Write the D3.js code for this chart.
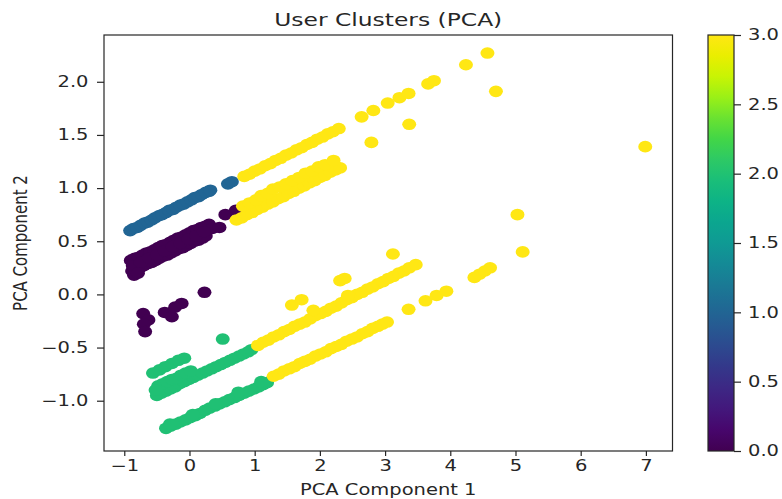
<!DOCTYPE html>
<html>
<head>
<meta charset="utf-8">
<script src="https://cdn.jsdelivr.net/npm/d3@7"></script>
<style>
  html, body { margin: 0; padding: 0; background: #fff; }
  svg { display: block; font-family: "DejaVu Sans", sans-serif; }
</style>
</head>
<body>
<svg id="chart" width="782" height="499"></svg>
<script>
// ---- data -------------------------------------------------------------
const xTicks = [-1, 0, 1, 2, 3, 4, 5, 6, 7];
const yTicks = [-1.0, -0.5, 0.0, 0.5, 1.0, 1.5, 2.0];
const colorbarTicks = [0.0, 0.5, 1.0, 1.5, 2.0, 2.5, 3.0];
const clusterIds = [0, 1, 2, 3];

// cluster 0
const cluster0Points = [
  [-0.88,0.22],[-0.82,0.23],[-0.76,0.25],[-0.70,0.27],[-0.64,0.29],[-0.58,0.30],[-0.52,0.32],
  [-0.46,0.34],[-0.40,0.36],[-0.34,0.37],[-0.28,0.39],[-0.22,0.41],[-0.16,0.43],[-0.10,0.44],
  [-0.04,0.46],[0.02,0.48],[0.08,0.50],[0.14,0.51],[0.20,0.53],[0.25,0.55],
  [-0.90,0.32],[-0.84,0.34],[-0.78,0.35],[-0.72,0.37],[-0.66,0.39],[-0.60,0.40],[-0.54,0.42],
  [-0.48,0.44],[-0.42,0.46],[-0.36,0.47],[-0.30,0.49],[-0.24,0.51],[-0.18,0.53],[-0.12,0.54],
  [-0.06,0.56],[0.00,0.58],[0.06,0.60],[0.12,0.61],[0.18,0.63],[0.24,0.64],[0.30,0.66],[0.35,0.62],
  [-0.87,0.27],[-0.75,0.30],[-0.62,0.34],[-0.50,0.37],[-0.38,0.41],[-0.26,0.45],[-0.14,0.48],
  [-0.02,0.52],[0.10,0.55],[0.22,0.59],[-0.85,0.18],[-0.79,0.20],
  [0.46,0.63],[0.55,0.75],[0.71,0.79],
  [-0.71,-0.18],[-0.63,-0.24],[-0.70,-0.28],[-0.68,-0.35],[-0.38,-0.17],[-0.27,-0.21],
  [-0.22,-0.12],[-0.12,-0.085],[0.23,0.02]
];

// cluster 1
const cluster1Points = [
  [-0.91,0.60],[-0.86,0.62],[-0.80,0.63],[-0.75,0.65],[-0.69,0.67],[-0.64,0.68],[-0.58,0.70],
  [-0.53,0.72],[-0.47,0.74],[-0.42,0.75],[-0.36,0.77],[-0.31,0.79],[-0.25,0.80],[-0.20,0.82],
  [-0.14,0.84],[-0.09,0.85],[-0.03,0.87],[0.03,0.89],[0.08,0.91],[0.14,0.92],[0.19,0.94],
  [0.25,0.96],[0.30,0.97],[0.32,0.98],
  [0.59,1.04],[0.65,1.06]
];

// cluster 2
const cluster2Points = [
  [0.51,-0.42],
  [-0.56,-0.74],[-0.46,-0.71],[-0.37,-0.68],[-0.27,-0.65],[-0.17,-0.62],[-0.08,-0.60],
  [-0.50,-0.95],[-0.43,-0.93],[-0.36,-0.91],[-0.29,-0.89],[-0.22,-0.87],[-0.15,-0.84],
  [-0.08,-0.82],[-0.01,-0.80],[0.06,-0.78],[0.13,-0.76],[0.20,-0.74],[0.27,-0.72],[0.34,-0.70],
  [0.41,-0.68],[0.48,-0.66],[0.55,-0.64],[0.62,-0.62],[0.69,-0.60],[0.76,-0.58],[0.83,-0.56],
  [0.90,-0.54],[0.95,-0.52],
  [-0.48,-0.86],[-0.41,-0.84],[-0.34,-0.82],[-0.27,-0.80],[-0.20,-0.79],[-0.13,-0.76],
  [-0.06,-0.74],[0.02,-0.72],[-0.52,-0.90],
  [-0.36,-1.26],[-0.29,-1.24],[-0.21,-1.22],[-0.14,-1.20],[-0.06,-1.18],[0.01,-1.16],
  [0.09,-1.14],[0.16,-1.12],[0.24,-1.09],[0.31,-1.07],[0.39,-1.05],[0.46,-1.03],[0.54,-1.01],
  [0.61,-0.99],[0.69,-0.97],[0.76,-0.95],[0.84,-0.93],[0.91,-0.91],[0.99,-0.89],[1.06,-0.87],
  [1.13,-0.85],[1.19,-0.83],
  [-0.30,-1.22],[0.05,-1.13],[0.40,-1.03],[0.75,-0.92],[1.10,-0.82]
];

// cluster 3
const cluster3Points = [
  // upper streak
  [0.84,1.11],[0.92,1.13],[1.00,1.16],[1.08,1.18],[1.16,1.21],[1.24,1.23],[1.32,1.26],
  [1.40,1.28],[1.48,1.31],[1.56,1.33],[1.64,1.36],[1.72,1.38],[1.80,1.41],[1.88,1.43],
  [1.96,1.46],[2.04,1.48],[2.12,1.51],[2.20,1.53],[2.29,1.56],
  [2.64,1.67],[2.82,1.73],[3.04,1.80],[3.22,1.85],[3.36,1.89],[3.66,1.98],[3.75,2.01],
  [4.24,2.16],[4.57,2.27],[4.70,1.91],[3.37,1.60],[2.79,1.43],[6.99,1.39],
  // second streak
  [0.72,0.70],[0.80,0.72],[0.88,0.75],[0.96,0.77],[1.04,0.80],[1.12,0.82],[1.20,0.85],
  [1.28,0.87],[1.36,0.90],[1.44,0.92],[1.52,0.95],[1.60,0.97],[1.68,1.00],[1.76,1.02],
  [1.84,1.05],[1.92,1.07],[2.00,1.10],[2.08,1.12],[2.16,1.15],[2.24,1.17],[2.31,1.19],
  [0.82,0.83],[0.92,0.86],[1.02,0.89],[1.10,0.93],[1.20,0.95],[1.28,0.99],[1.38,1.01],
  [1.48,1.04],[1.58,1.07],[1.68,1.10],[1.78,1.14],[1.88,1.16],[1.98,1.20],[2.08,1.22],[2.21,1.26],
  [5.03,0.75],[5.11,0.40],
  // third streak
  [1.05,-0.48],[1.13,-0.45],[1.21,-0.43],[1.29,-0.40],[1.37,-0.38],[1.45,-0.35],[1.53,-0.33],
  [1.61,-0.30],[1.69,-0.28],[1.77,-0.26],[1.85,-0.23],[1.93,-0.20],[2.01,-0.18],[2.09,-0.16],
  [2.17,-0.13],[2.25,-0.11],[2.33,-0.08],[2.41,-0.05],[2.49,-0.03],[2.57,0.00],[2.65,0.02],
  [2.73,0.05],[2.81,0.07],[2.89,0.10],[2.97,0.12],[3.05,0.15],[3.13,0.17],[3.21,0.20],
  [3.29,0.22],[3.37,0.25],[3.47,0.28],
  [1.57,-0.10],[1.72,-0.05],[1.90,-0.15],[2.31,0.13],[2.38,0.15],[2.43,-0.01],[3.12,0.38],
  [4.37,0.16],[4.45,0.19],[4.53,0.22],[4.61,0.25],
  // lower streak
  [1.29,-0.77],[1.37,-0.75],[1.45,-0.72],[1.53,-0.70],[1.61,-0.68],[1.69,-0.65],[1.77,-0.63],
  [1.85,-0.61],[1.93,-0.58],[2.01,-0.56],[2.09,-0.54],[2.17,-0.51],[2.25,-0.49],[2.33,-0.47],
  [2.41,-0.44],[2.49,-0.42],[2.57,-0.40],[2.65,-0.37],[2.73,-0.35],[2.81,-0.32],[2.89,-0.30],
  [2.96,-0.28],[3.03,-0.26],
  [3.36,-0.14],[3.62,-0.06],[3.79,-0.01],[3.94,0.03]
];

const clusterPoints = [cluster0Points, cluster1Points, cluster2Points, cluster3Points];

// ---- layout -------------------------------------------------------------
const plot = { left: 104, right: 672.5, top: 35, bottom: 451 };
const cbar = { left: 708, right: 734 };
const STRETCH = 1.3;           // horizontal glyph stretch
const INK = "#262626";

const svg = d3.select("#chart");

// vivid viridis
function cmap(t) {
  const c = d3.hsl(d3.interpolateViridis(t));
  c.s = Math.min(1, c.s * 1.3);
  c.l = c.l * 0.95;
  return c.formatHex();
}
const colorScale = d3.scaleLinear().domain([0, 3]).range([0, 1]);

const x = d3.scaleLinear().domain([-1.311, 7.408]).range([plot.left, plot.right]);
const y = d3.scaleLinear().domain([-1.473, 2.44]).range([plot.bottom, plot.top]);

// points
const pts = svg.append("g");
clusterIds.forEach(k => {
  pts.append("g").selectAll("ellipse")
    .data(clusterPoints[k])
    .join("ellipse")
    .attr("cx", d => x(d[0]))
    .attr("cy", d => y(d[1]))
    .attr("rx", 7.0)
    .attr("ry", 5.8)
    .attr("fill", cmap(colorScale(k)));
});

// axes
const fmt1 = d3.format(".1f");
const xAxis = d3.axisBottom(x).tickValues(xTicks).tickFormat(d3.format("d"))
  .tickSize(5).tickPadding(4);
const yAxis = d3.axisLeft(y).tickValues(yTicks).tickFormat(fmt1)
  .tickSize(7).tickPadding(4);

const gx = svg.append("g").attr("transform", `translate(0,${plot.bottom})`).call(xAxis);
const gy = svg.append("g").attr("transform", `translate(${plot.left},0)`).call(yAxis);

[gx, gy].forEach(g => {
  g.select(".domain").remove();
  g.selectAll(".tick line").attr("stroke", INK).attr("stroke-width", 1.2);
  g.selectAll(".tick text")
    .attr("fill", INK)
    .style("font-size", "15px")
    .style("font-family", "DejaVu Sans");
});
gx.selectAll(".tick text").attr("y", 9).attr("dy", "0.71em")
  .attr("transform", `scale(${STRETCH},1)`);
gy.selectAll(".tick text").attr("x", -15.5 / STRETCH)
  .attr("transform", `scale(${STRETCH},1)`);

// frame
svg.append("rect")
  .attr("x", plot.left).attr("y", plot.top)
  .attr("width", plot.right - plot.left).attr("height", plot.bottom - plot.top)
  .attr("fill", "none").attr("stroke", INK).attr("stroke-width", 1.2);

// title and axis labels
function label(txt, tx, ty, size, rot) {
  svg.append("text")
    .attr("transform", `translate(${tx},${ty}) scale(${STRETCH},1)` + (rot ? ` rotate(${rot})` : ""))
    .attr("text-anchor", "middle")
    .attr("fill", INK)
    .style("font-size", size + "px")
    .text(txt);
}
label("User Clusters (PCA)", (plot.left + plot.right) / 2, 26, 18);
label("PCA Component 1", (plot.left + plot.right) / 2, 495, 15);
label("PCA Component 2", 27, (plot.top + plot.bottom) / 2, 15, -90);

// colorbar
const cy = d3.scaleLinear().domain([0, 3]).range([plot.bottom, plot.top]);
const grad = svg.append("defs").append("linearGradient")
  .attr("id", "cbar-grad").attr("x1", 0).attr("y1", 1).attr("x2", 0).attr("y2", 0);
d3.range(0, 1.0001, 0.05).forEach(t => {
  grad.append("stop").attr("offset", t).attr("stop-color", cmap(t));
});
svg.append("rect")
  .attr("x", cbar.left).attr("y", plot.top)
  .attr("width", cbar.right - cbar.left).attr("height", plot.bottom - plot.top)
  .attr("fill", "url(#cbar-grad)")
  .attr("stroke", INK).attr("stroke-width", 1.2);

const cAxis = d3.axisRight(cy).tickValues(colorbarTicks).tickFormat(fmt1)
  .tickSize(7).tickPadding(4);
const gc = svg.append("g").attr("transform", `translate(${cbar.right},0)`).call(cAxis);
gc.select(".domain").remove();
gc.selectAll(".tick line").attr("stroke", INK).attr("stroke-width", 1.2);
gc.selectAll(".tick text")
  .attr("fill", INK)
  .style("font-size", "15px")
  .style("font-family", "DejaVu Sans")
  .attr("x", 14 / STRETCH)
  .attr("transform", `scale(${STRETCH},1)`);
</script>
</body>
</html>
